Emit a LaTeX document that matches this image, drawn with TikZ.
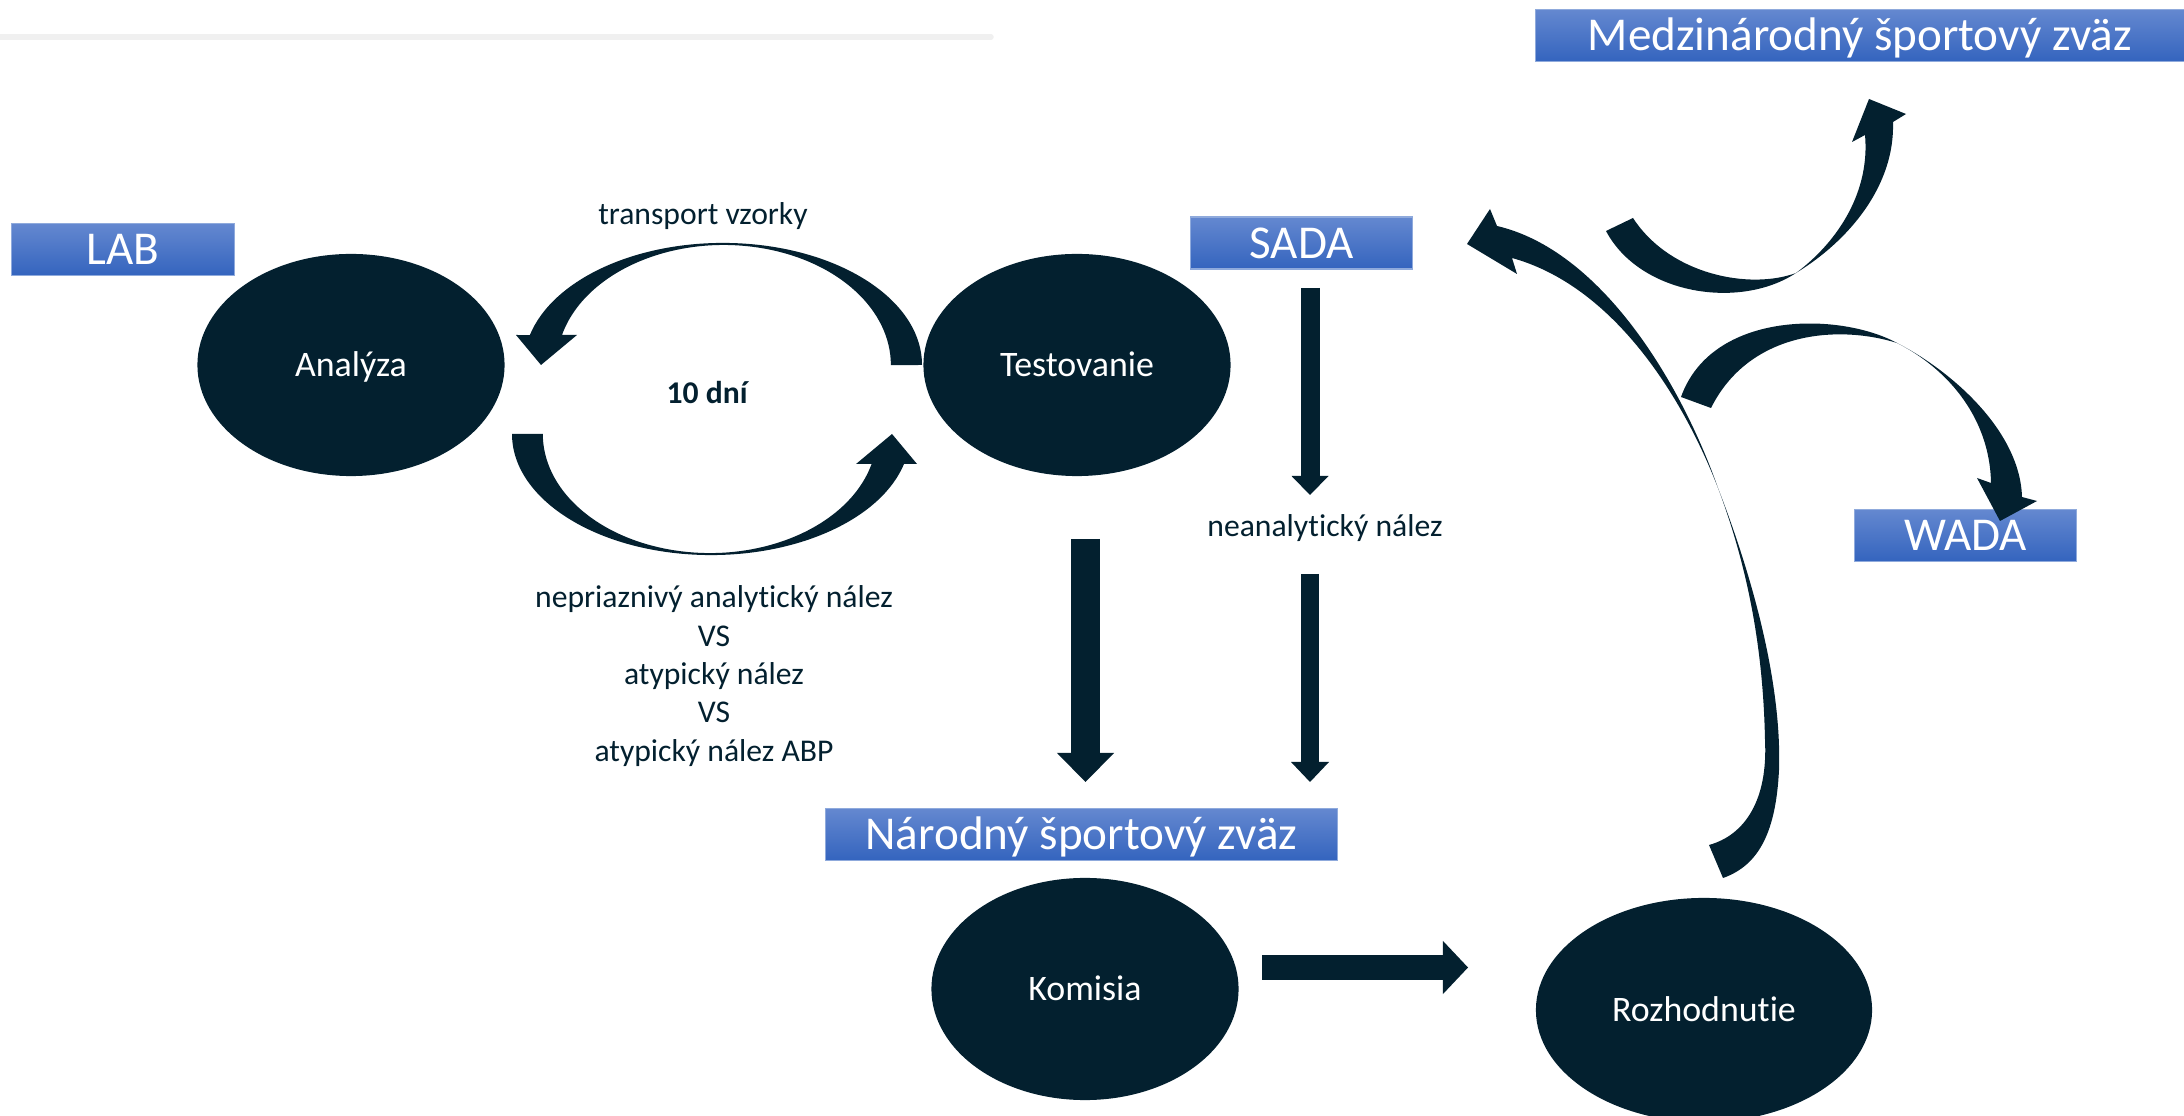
\documentclass[tikz,border=0pt]{standalone}
\usepackage{fontspec}
\setmainfont{Carlito}[Ligatures=NoCommon]
\usetikzlibrary{shapes.geometric,arrows.meta}
\definecolor{navy}{HTML}{03202F}
\definecolor{topblue}{HTML}{6488D0}
\definecolor{botblue}{HTML}{3464BE}
\definecolor{edgeblue}{HTML}{8FAADC}
\definecolor{rulegray}{HTML}{F0F0F0}
\tikzstyle{stage} = [ellipse, fill=navy, text=white, minimum width=3.07cm, minimum height=2.22cm, inner sep=0pt, text height=0.23cm, text depth=0pt, font=\fontsize{10.2}{12}\selectfont]
\tikzstyle{agency} = [rectangle, draw=edgeblue, line width=0.3pt, top color=topblue, bottom color=botblue, text=white, minimum width=2.22cm, minimum height=0.52cm, inner sep=0pt, text height=0.3cm, text depth=0pt, font=\fontsize{13.4}{16}\selectfont]
\tikzstyle{note} = [text=navy, align=center, font=\fontsize{9}{10.9}\selectfont]
\tikzstyle{block} = [draw=navy, line cap=butt]
\tikzstyle{swoop} = [fill=navy]

\begin{document}
\begin{tikzpicture}[x=0.01cm, y=0.01cm]
    \useasboundingbox (0,0) rectangle (2184,-1116);
    \draw[rulegray, line width=0.055cm, line cap=round] (0,-37) -- (991,-37);
    \draw (351,-365)   node[stage] (A) {Analýza};
    \draw (1077,-365)  node[stage] (B) {Testovanie};
    \draw (1085,-989)  node[stage] (C) {Komisia};
    \draw (1704,-1010) node[stage, minimum width=3.36cm, minimum height=2.24cm] (D) {Rozhodnutie};
    \draw (123,-249.5)    node[agency] (E) {LAB};
    \draw (1301.5,-243)   node[agency] (F) {SADA};
    \draw (1965.5,-535.5) node[agency] (G) {WADA};
    \draw (1081.5,-834.5) node[agency, minimum width=5.11cm] (H) {Národný športový zväz};
    \draw (1860,-35.5)    node[agency, minimum width=6.48cm] (I) {Medzinárodný športový zväz};
    \draw (703,-225)  node[note, anchor=base] (J) {transport vzorky};
    \draw (707,-404)  node[note, anchor=base, font=\fontsize{9}{10.9}\selectfont\bfseries] (K) {10 dní};
    \draw (714,-676)  node[note] (L) {nepriaznivý analytický nález \\ VS \\ atypický nález \\ VS \\ atypický nález ABP};
    \draw (1325,-537) node[note, anchor=base] (M) {neanalytický nález};
    \coordinate (b1) at (1085.5,-539);
    \coordinate (b2) at (1085.5,-782);
    \coordinate (b3) at (1310,-288);
    \coordinate (b4) at (1310,-495);
    \coordinate (b5) at (1310,-574);
    \coordinate (b6) at (1310,-782);
    \coordinate (b7) at (1262,-967.5);
    \coordinate (b8) at (1468,-967.5);
    \draw[block, line width=0.29cm, -{Triangle[width=0.57cm, length=0.29cm, line width=0pt]}] (b1) -- (b2);
    \draw[block, line width=0.19cm, -{Triangle[width=0.37cm, length=0.19cm, line width=0pt]}] (b3) -- (b4);
    \draw[block, line width=0.18cm, -{Triangle[width=0.38cm, length=0.2cm, line width=0pt]}] (b5) -- (b6);
    \draw[block, line width=0.25cm, -{Triangle[width=0.53cm, length=0.25cm, line width=0pt]}] (b7) -- (b8);
    \fill[swoop] (922,-365) arc[start angle=0, end angle=165.8, x radius=1.99cm, y radius=1.22cm]
        -- (516,-335) -- (541,-365) -- (577,-335) -- (562,-335)
        arc[start angle=165.5, end angle=0, x radius=1.67cm, y radius=1.2cm] -- cycle;
    \fill[swoop] (512,-434) arc[start angle=180, end angle=345.65, x radius=1.99cm, y radius=1.21cm]
        -- (917,-464) -- (892,-434) -- (856,-464) -- (871.6,-464)
        arc[start angle=345.4, end angle=180, x radius=1.67cm, y radius=1.19cm] -- cycle;
    \fill[swoop] (1497,-226) .. controls (1600,-250) and (1680,-380) .. (1718,-488)
        .. controls (1750,-570) and (1782,-680) .. (1779,-770)
        .. controls (1776,-830) and (1760,-865) .. (1723,-878)
        -- (1709,-845)
        .. controls (1745,-835) and (1768,-800) .. (1765,-740)
        .. controls (1763,-640) and (1745,-560) .. (1718,-488)
        .. controls (1680,-390) and (1610,-285) .. (1512,-258)
        -- (1517,-274) -- (1467,-244) -- (1490,-209) -- cycle;
    \fill[swoop] (1606,-231) .. controls (1640,-295) and (1740,-310) .. (1796,-273)
        .. controls (1850,-240) and (1895,-185) .. (1893,-122)
        -- (1906,-114) -- (1869,-99) -- (1852,-142) -- (1865,-135)
        .. controls (1870,-190) and (1840,-240) .. (1796,-273)
        .. controls (1750,-290) and (1670,-275) .. (1633,-218) -- cycle;
    \fill[swoop] (1681,-397) .. controls (1712,-310) and (1840,-312) .. (1897,-343)
        .. controls (1950,-370) and (2020,-430) .. (2022,-497)
        -- (2037,-501) -- (2000,-521) -- (1977,-478) -- (1991,-483)
        .. controls (1990,-420) and (1950,-370) .. (1897,-343)
        .. controls (1840,-325) and (1750,-330) .. (1711,-408) -- cycle;
\end{tikzpicture}
\end{document}
